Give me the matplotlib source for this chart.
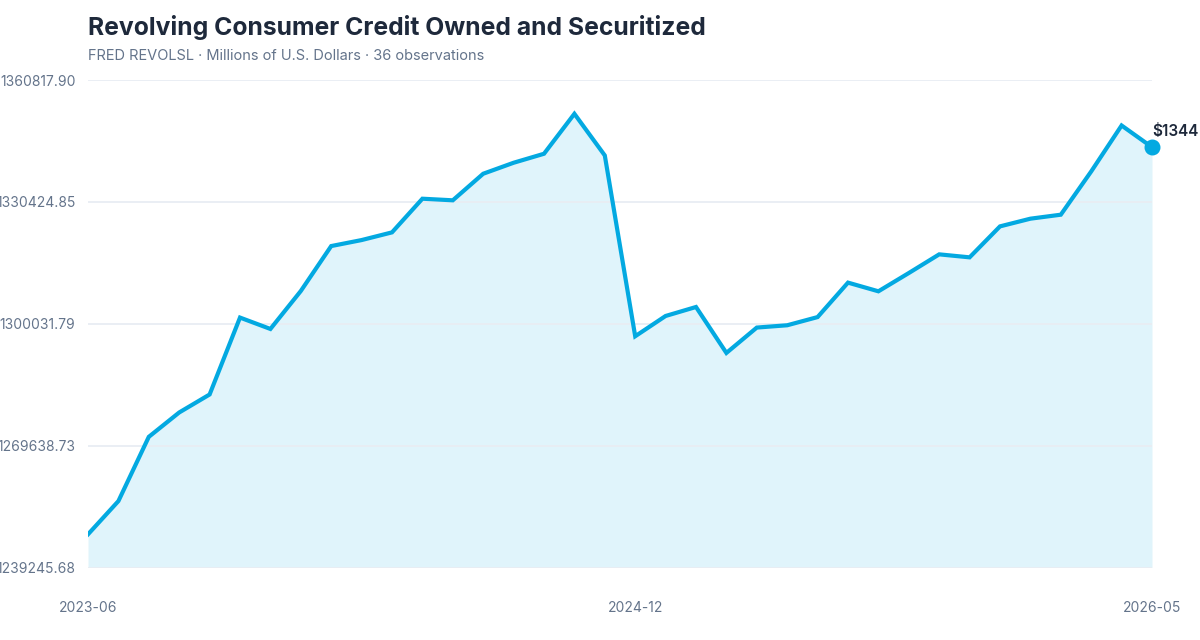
import matplotlib
matplotlib.use("Agg")
import matplotlib.pyplot as plt
import numpy as np

# monthly REVOLSL values
months = [
    "2023-06", "2023-07", "2023-08", "2023-09", "2023-10", "2023-11",
    "2023-12", "2024-01", "2024-02", "2024-03", "2024-04", "2024-05",
    "2024-06", "2024-07", "2024-08", "2024-09", "2024-10", "2024-11",
    "2024-12", "2025-01", "2025-02", "2025-03", "2025-04", "2025-05",
    "2025-06", "2025-07", "2025-08", "2025-09", "2025-10", "2025-11",
    "2025-12", "2026-01", "2026-02", "2026-03", "2026-04", "2026-05",
]
values = [
    1247516, 1255811, 1271828, 1277906, 1282390, 1301571,
    1298731, 1308197, 1319406, 1320901, 1322819, 1331214,
    1330815, 1337441, 1340181, 1342423, 1352387, 1342000,
    1296913, 1301969, 1304211, 1292753, 1299080, 1299653,
    1301695, 1310289, 1308122, 1312681, 1317339, 1316592,
    1324314, 1326232, 1327228, 1338014, 1349473, 1344067,
]
y_ticks = [1239245.68, 1269638.73, 1300031.79, 1330424.85, 1360817.90]
x_tick_labels = ["2023-06", "2024-12", "2026-05"]
end_label = "$1344"

LINE = "#03a9e1"
FILL = "#e0f4fb"
GRID = "#e8edf3"
TEXT = "#1e293b"
MUTED = "#64748b"

plt.rcParams["font.family"] = ["Inter", "DejaVu Sans"]

fig = plt.figure(figsize=(12, 6.4), dpi=100)
ax = fig.add_axes([88 / 1200, 1 - 567.5 / 640, 1064 / 1200, 487.5 / 640])

x = np.arange(len(values))
ax.fill_between(x, values, y_ticks[0], color=FILL, lw=0, zorder=1)
ax.plot(x, values, color=LINE, lw=3, solid_joinstyle="miter", zorder=3)
ax.scatter([x[-1]], [values[-1]], s=110, color=LINE, zorder=4, clip_on=False)
ax.annotate(end_label, (x[-1], values[-1]), xytext=(0.5, 11), textcoords="offset points",
            fontsize=11, fontweight="semibold", color=TEXT, ha="left", va="center",
            annotation_clip=False)

ax.set_xlim(0, len(values) - 1)
ax.set_ylim(y_ticks[0], y_ticks[-1])
ax.set_yticks(y_ticks)
ax.set_yticklabels([f"{v:.2f}" for v in y_ticks])
ax.set_xticks([months.index(m) for m in x_tick_labels])
ax.set_xticklabels(x_tick_labels)

ax.tick_params(axis="y", length=0, pad=9, labelsize=10, labelcolor=MUTED)
ax.tick_params(axis="x", length=0, pad=24, labelsize=10, labelcolor=MUTED)
ax.grid(axis="y", color=GRID, lw=1.3, zorder=2)
ax.set_axisbelow(False)
for s in ax.spines.values():
    s.set_visible(False)

fig.text(88 / 1200, 1 - 28 / 640, "Revolving Consumer Credit Owned and Securitized",
         fontsize=17.8, fontweight="bold", color=TEXT, ha="left", va="center")
fig.text(88 / 1200, 1 - 56 / 640, "FRED REVOLSL · Millions of U.S. Dollars · 36 observations",
         fontsize=10.5, color=MUTED, ha="left", va="center")

fig.savefig("out.png", dpi=100)
